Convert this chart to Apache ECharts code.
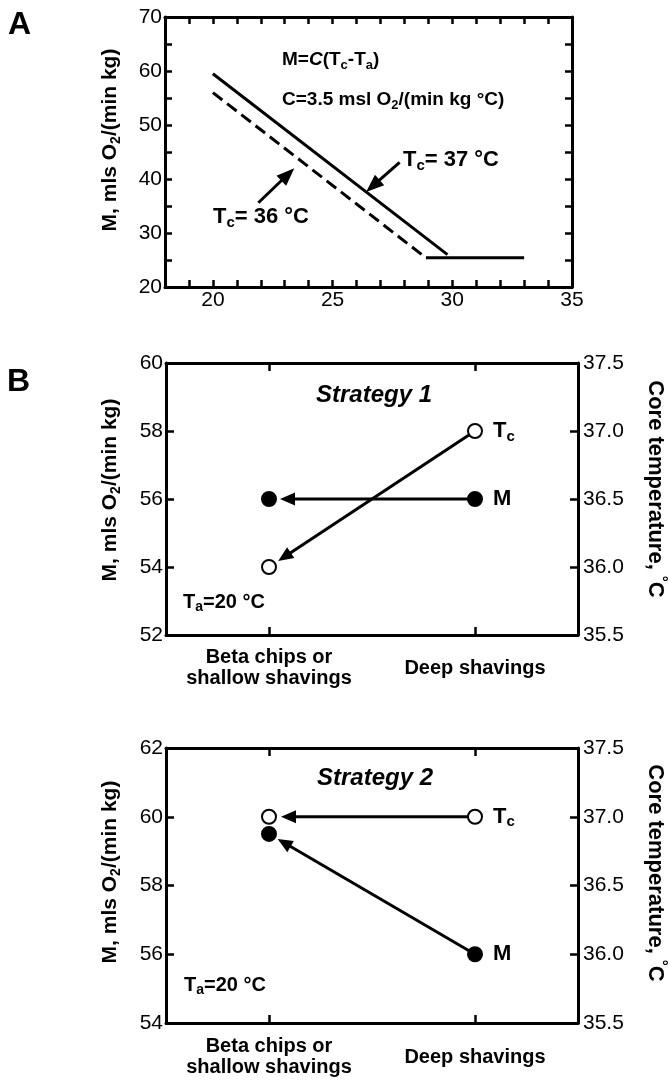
<!DOCTYPE html>
<html><head><meta charset="utf-8">
<script src="https://cdn.jsdelivr.net/npm/echarts@6/dist/echarts.min.js"></script>
<style>html,body{margin:0;padding:0;background:#fff}#c{width:668px;height:1080px}</style>
</head><body><div id="c"></div>
<script>
// ---------- Panel A data ----------
const aTa37 = [20, 29.8];
const aM37 = [59.5, 26];
const aTa36 = [20, 28.9];
const aM36 = [56, 25.4];
const aFloorTa = [28.9, 33];
const aFloorM = [25.4, 25.4];
const aXTickLabels = [20, 25, 30, 35];
const aYTickLabels = [20, 30, 40, 50, 60, 70];
// annotation arrows (tail x, tail y, tip x, tip y) in data units
const aArrowTc37 = [27.8, 43.1, 26.4, 37.6];
const aArrowTc36 = [21.9, 35.6, 23.4, 42.0];

// ---------- Panel B data ----------
const bCategories = ['Beta chips or\nshallow shavings', 'Deep shavings'];
const s1M = [56, 56];
const s1Tc = [36.0, 37.0];
const s2M = [59.5, 56];
const s2Tc = [37.0, 37.0];

const FF = 'Liberation Sans, Arial, Helvetica, sans-serif';
const K = '#000';

function zip(a, b) { return a.map((v, i) => [v, b[i]]); }

function arrowItem(headLen, headW, tipGap, lw) {
  return function (params, api) {
    const p0 = api.coord([api.value(0), api.value(1)]);
    const p1 = api.coord([api.value(2), api.value(3)]);
    const dx = p1[0] - p0[0], dy = p1[1] - p0[1];
    const L = Math.hypot(dx, dy) || 1;
    const ux = dx / L, uy = dy / L;
    const tip = [p1[0] - ux * tipGap, p1[1] - uy * tipGap];
    const base = [tip[0] - ux * headLen, tip[1] - uy * headLen];
    const nx = -uy, ny = ux;
    return {
      type: 'group', children: [
        { type: 'line', shape: { x1: p0[0], y1: p0[1], x2: base[0] + ux, y2: base[1] + uy }, style: { stroke: K, lineWidth: lw } },
        { type: 'polygon', shape: { points: [tip, [base[0] + nx * headW / 2, base[1] + ny * headW / 2], [base[0] - nx * headW / 2, base[1] - ny * headW / 2]] }, style: { fill: K } }
      ]
    };
  };
}

const axisLineStyle = { show: true, lineStyle: { color: K, width: 3 } };
const tickIn = (len) => ({ show: true, inside: true, length: len, lineStyle: { color: K, width: 2.5 } });
const numLabel = { color: K, fontFamily: FF, fontSize: 21 };

function bAxes(gi, yMin, yMax) {
  return {
    x: [
      { gridIndex: gi, type: 'category', data: bCategories, position: 'bottom', boundaryGap: true,
        axisLine: axisLineStyle, axisTick: Object.assign(tickIn(8), { alignWithLabel: true }),
        axisLabel: { interval: 0, color: K, fontFamily: FF, fontSize: 20, fontWeight: 'bold', lineHeight: 21, verticalAlign: 'middle', margin: gi === 1 ? 33 : 34,
          rich: {} ,
          formatter: function (v) { return v; } } },
      { gridIndex: gi, type: 'category', data: bCategories, position: 'top', boundaryGap: true,
        axisLine: axisLineStyle, axisTick: Object.assign(tickIn(8), { alignWithLabel: true }), axisLabel: { show: false } }
    ],
    y: [
      { gridIndex: gi, type: 'value', position: 'left', min: yMin, max: yMax, interval: 2,
        axisLine: axisLineStyle, axisTick: tickIn(8), splitLine: { show: false },
        axisLabel: Object.assign({ margin: 3 }, numLabel) },
      { gridIndex: gi, type: 'value', position: 'right', min: 35.5, max: 37.5, interval: 0.5,
        axisLine: axisLineStyle, axisTick: tickIn(8), splitLine: { show: false },
        axisLabel: Object.assign({ margin: 5, formatter: v => v.toFixed(1) }, numLabel) }
    ]
  };
}

const b1 = bAxes(1, 52, 60);
const b2 = bAxes(2, 54, 62);

const subRich = {
  t: { fontFamily: FF, fontSize: 22, fontWeight: 'bold', color: K, lineHeight: 26 },
  s: { fontFamily: FF, fontSize: 15, fontWeight: 'bold', color: K, lineHeight: 12, verticalAlign: 'bottom' }
};

function pointSeries(xi, yi, vals, filled, labelTxt) {
  return {
    type: 'scatter', xAxisIndex: xi, yAxisIndex: yi, z: 5,
    symbol: 'circle', symbolSize: 14,
    itemStyle: filled ? { color: K, borderColor: K, borderWidth: 2, opacity: 1 } : { color: '#fff', borderColor: K, borderWidth: 2, opacity: 1 },
    emphasis: { disabled: true },
    data: vals.map((v, i) => ({
      value: v,
      label: { show: i === 1, position: 'right', distance: 10, color: K, opacity: 1, formatter: labelTxt, rich: subRich }
    }))
  };
}

function arrowSeries(xi, yi, vals, gap) {
  return {
    type: 'custom', xAxisIndex: xi, yAxisIndex: yi, z: 3,
    renderItem: arrowItem(15, 13, gap, 3),
    encode: { x: 0, y: 1 },
    data: [[1, vals[1], 0, vals[0]]]
  };
}

const bRich = (size) => ({
  b: { fontFamily: FF, fontSize: size, fontWeight: 'bold', fill: K, lineHeight: size + 5 },
  i: { fontFamily: FF, fontSize: size, fontWeight: 'bold', fontStyle: 'italic', fill: K, lineHeight: size + 5 },
  s: { fontFamily: FF, fontSize: Math.round(size * 0.68), fontWeight: 'bold', fill: K, lineHeight: 12, verticalAlign: 'bottom' },
  p: { fontFamily: FF, fontSize: Math.round(size * 0.7), fontWeight: 'bold', fill: K, lineHeight: 12, verticalAlign: 'top' }
});

function gText(text, x, y, size, align, rot, extra) {
  return Object.assign({
    type: 'text', x: x, y: y, rotation: rot || 0,
    style: { text: text, rich: bRich(size), align: align || 'left', verticalAlign: 'middle', fill: K,
             font: 'bold ' + size + 'px ' + FF }
  }, extra || {});
}

const option = {
  backgroundColor: '#fff',
  animation: false,
  grid: [
    { left: 165, top: 17, width: 407, height: 270 },
    { left: 166, top: 363, width: 412, height: 272 },
    { left: 166, top: 748, width: 412, height: 275 }
  ],
  xAxis: [
    { gridIndex: 0, type: 'value', position: 'bottom', min: 18, max: 35, interval: 1,
      axisLine: axisLineStyle, axisTick: tickIn(7), splitLine: { show: false },
      axisLabel: Object.assign({ margin: 3, formatter: v => aXTickLabels.includes(v) ? String(v) : '' }, numLabel) },
    { gridIndex: 0, type: 'value', position: 'top', min: 18, max: 35, interval: 1,
      axisLine: axisLineStyle, axisTick: tickIn(7), splitLine: { show: false }, axisLabel: { show: false } },
    b1.x[0], b1.x[1], b2.x[0], b2.x[1]
  ],
  yAxis: [
    { gridIndex: 0, type: 'value', position: 'left', min: 20, max: 70, interval: 5,
      axisLine: axisLineStyle, axisTick: tickIn(7), splitLine: { show: false },
      axisLabel: Object.assign({ margin: 3, formatter: v => aYTickLabels.includes(v) ? String(v) : '' }, numLabel) },
    { gridIndex: 0, type: 'value', position: 'right', min: 20, max: 70, interval: 5,
      axisLine: axisLineStyle, axisTick: tickIn(7), splitLine: { show: false }, axisLabel: { show: false } },
    b1.y[0], b1.y[1], b2.y[0], b2.y[1]
  ],
  series: [
    // Panel A
    { type: 'line', xAxisIndex: 0, yAxisIndex: 0, showSymbol: false, symbol: 'none',
      lineStyle: { color: K, width: 3 }, data: zip(aTa37, aM37) },
    { type: 'line', xAxisIndex: 0, yAxisIndex: 0, showSymbol: false, symbol: 'none',
      lineStyle: { color: K, width: 3, type: [12, 6] }, data: zip(aTa36, aM36) },
    { type: 'line', xAxisIndex: 0, yAxisIndex: 0, showSymbol: false, symbol: 'none',
      lineStyle: { color: K, width: 3 }, data: zip(aFloorTa, aFloorM) },
    { type: 'custom', xAxisIndex: 0, yAxisIndex: 0, renderItem: arrowItem(18, 14, 0, 3),
      encode: { x: 0, y: 1 }, data: [aArrowTc37, aArrowTc36] },
    // Panel B1
    arrowSeries(2, 2, s1M, 11),
    arrowSeries(2, 3, s1Tc, 11),
    pointSeries(2, 2, s1M, true, '{t|M}'),
    pointSeries(2, 3, s1Tc, false, '{t|T}{s|c}'),
    // Panel B2
    arrowSeries(4, 4, s2M, 10),
    arrowSeries(4, 5, s2Tc, 12),
    pointSeries(4, 4, s2M, true, '{t|M}'),
    pointSeries(4, 5, s2Tc, false, '{t|T}{s|c}')
  ],
  graphic: [
    gText('{b|A}', 8, 25, 32),
    gText('{b|B}', 7, 382, 32),
    // Panel A annotations
    gText('{b|M=}{i|C}{b|(T}{s|c}{b|-T}{s|a}{b|)}', 282, 60, 19),
    gText('{b|C=3.5 msl O}{s|2}{b|/(min kg °C)}', 282, 100, 19),
    gText('{b|T}{s|c}{b|= 37 °C}', 403, 160, 22),
    gText('{b|T}{s|c}{b|= 36 °C}', 213, 217, 22),
    // axis titles
    gText('{b|M, mls O}{s|2}{b|/(min kg)}', 110, 140, 21, 'center', Math.PI / 2),
    gText('{b|M, mls O}{s|2}{b|/(min kg)}', 110, 490, 21, 'center', Math.PI / 2),
    gText('{b|M, mls O}{s|2}{b|/(min kg)}', 110, 872, 21, 'center', Math.PI / 2),
    gText('{b|Core temperature, }{p|°}{b|C}', 655, 489, 22, 'center', -Math.PI / 2),
    gText('{b|Core temperature, }{p|°}{b|C}', 655, 873, 22, 'center', -Math.PI / 2),
    // Panel B annotations
    gText('{i|Strategy 1}', 374, 395, 24, 'center'),
    gText('{i|Strategy 2}', 375, 778, 24, 'center'),
    gText('{b|T}{s|a}{b|=20 °C}', 183, 602, 20),
    gText('{b|T}{s|a}{b|=20 °C}', 184, 985, 20)
  ]
};

echarts.init(document.getElementById('c'), null, { renderer: 'canvas' }).setOption(option);
</script>
</body></html>
